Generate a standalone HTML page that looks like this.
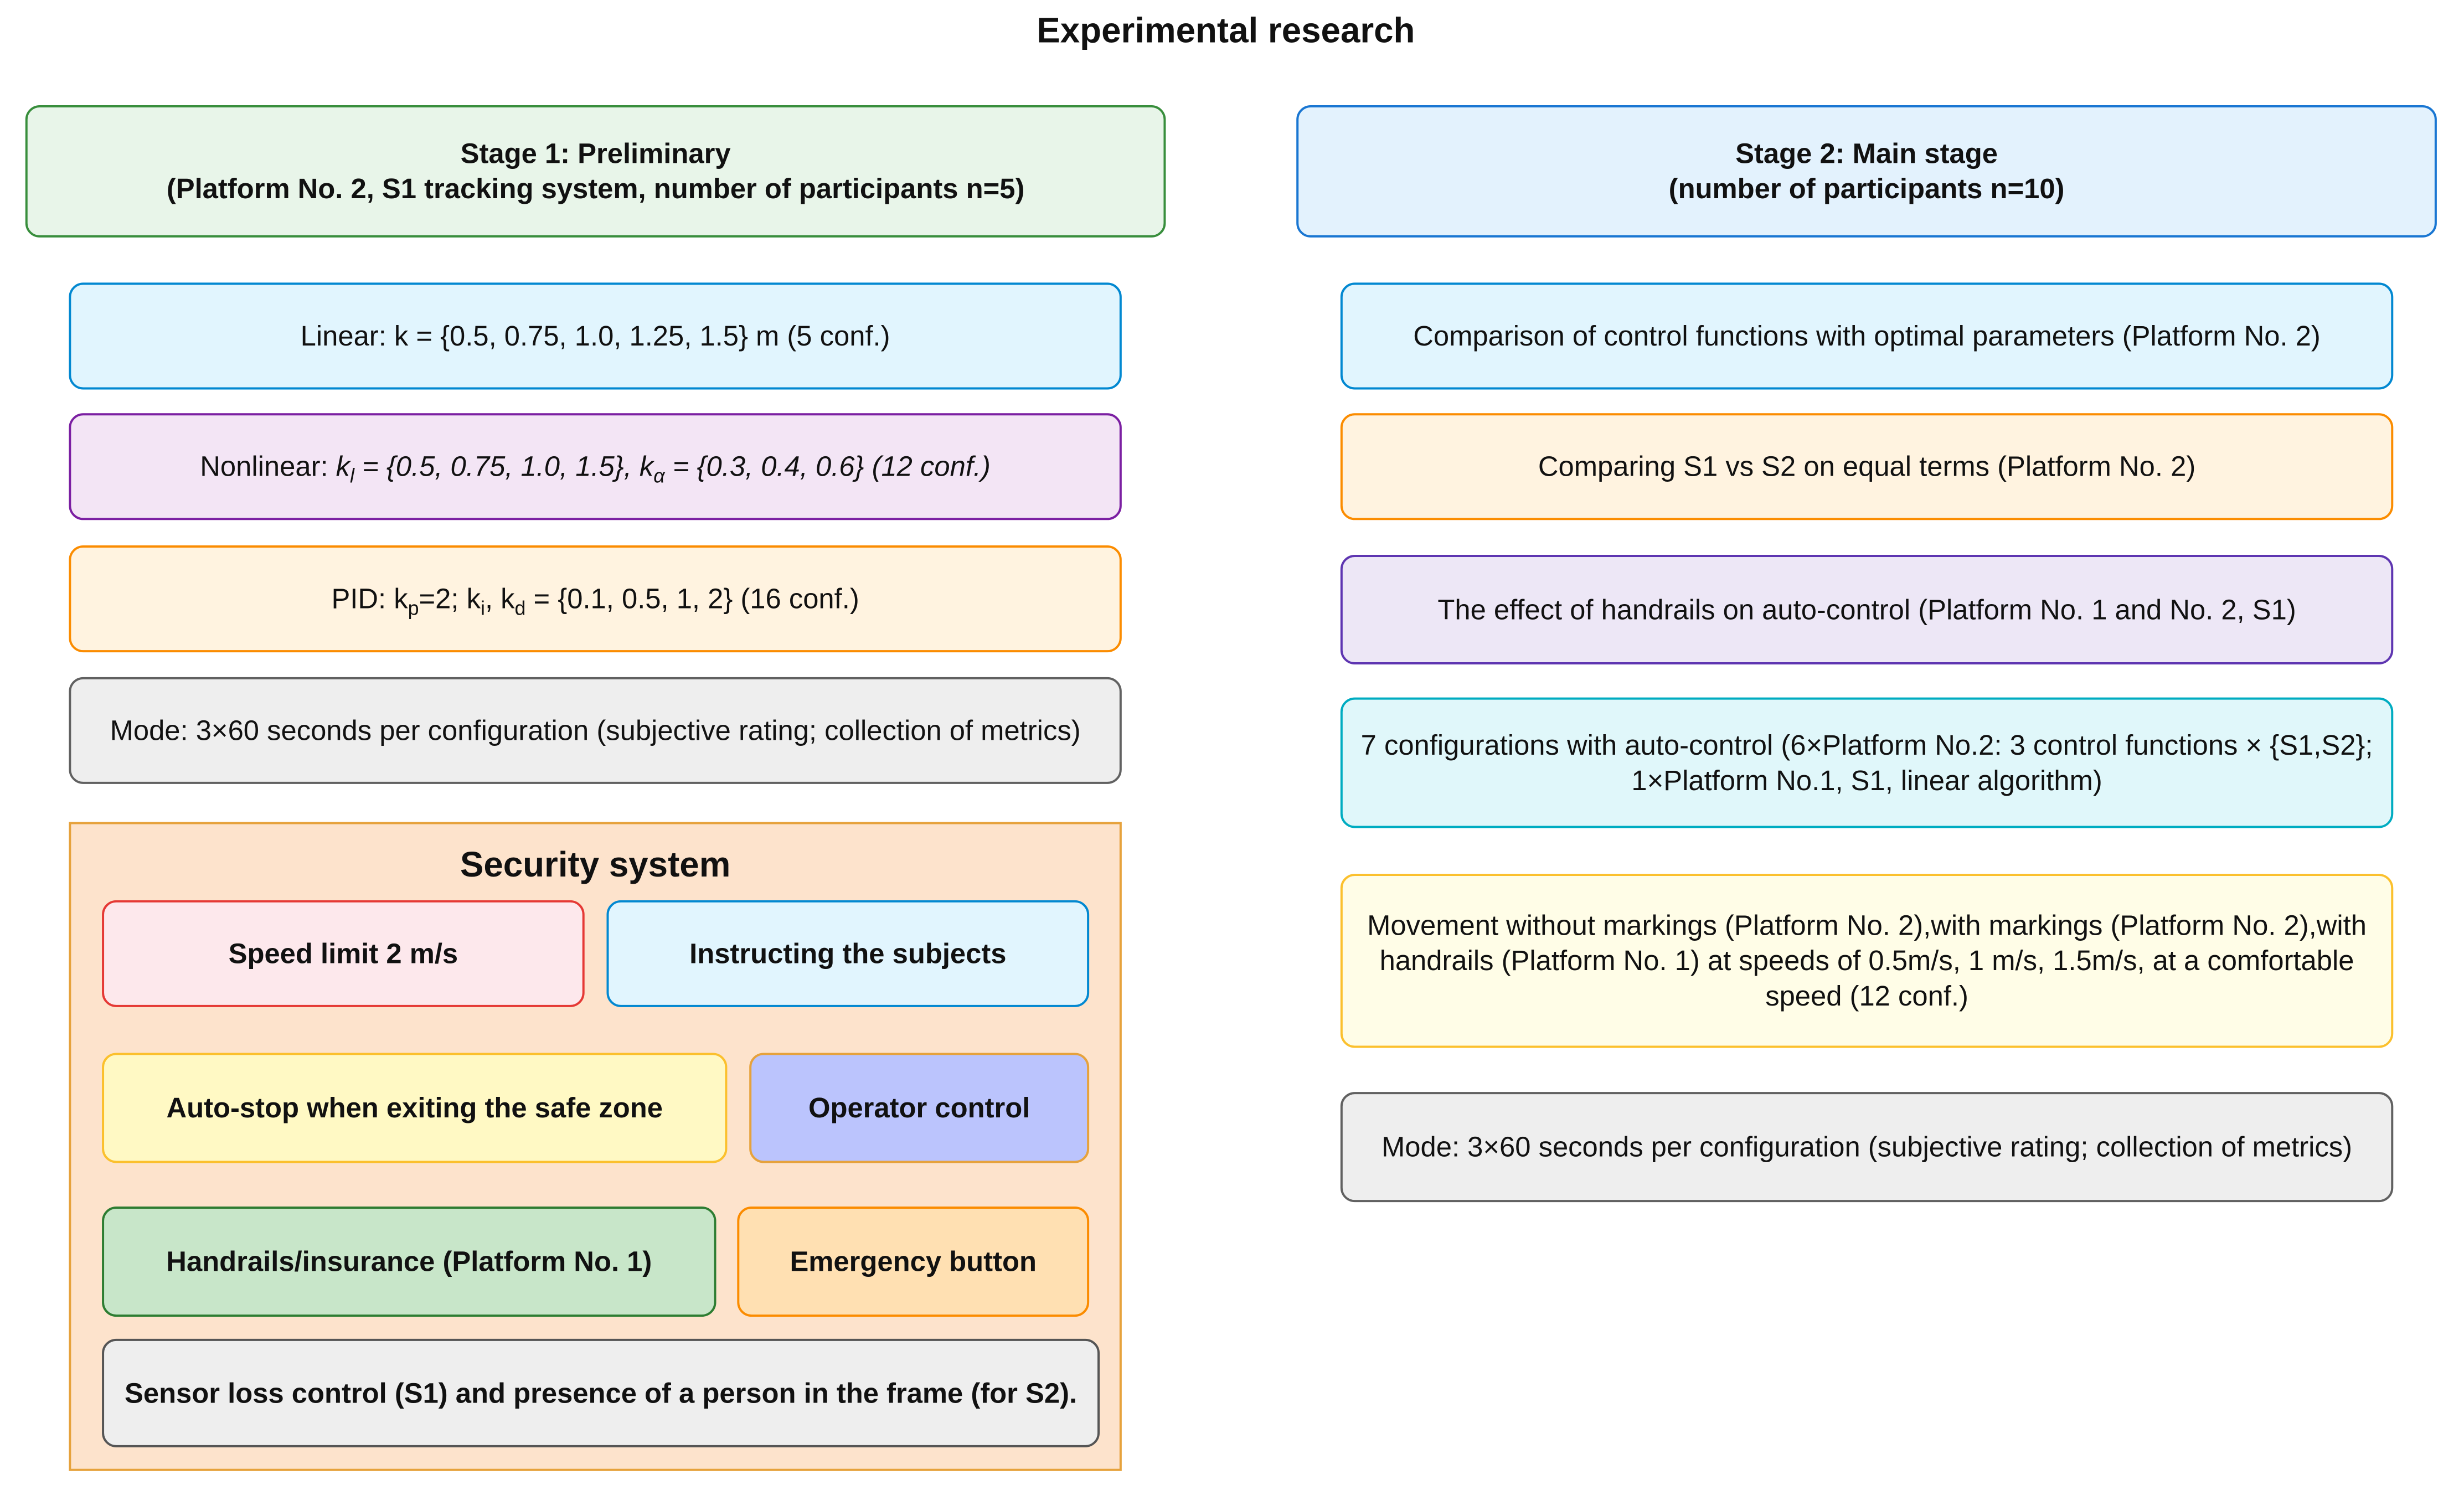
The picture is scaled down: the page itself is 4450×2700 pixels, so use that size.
<!DOCTYPE html>
<html><head><meta charset="utf-8"><style>
body{margin:0;width:4450px;height:2700px;background:#fff;position:relative;overflow:hidden;font-family:"Liberation Sans",Arial,sans-serif;color:#111}
#w{position:absolute;left:0;top:0;width:4450px;height:2700px;transform:scale(0.995);transform-origin:0 0}
.b{position:absolute;box-sizing:border-box;border:4px solid;border-radius:26px;display:flex;align-items:center;justify-content:center;text-align:center;font-size:51px;line-height:1.25}
.bd{font-weight:bold}
sub{font-size:36px;vertical-align:-12px;line-height:0}
</style></head><body><div id="w">
<div style="position:absolute;left:0;width:4450px;top:18px;text-align:center;font-weight:bold;font-size:64px">Experimental research</div>

<div class="b bd" style="left:46px;top:191px;width:2070px;height:240px;background:#e8f5e9;border-color:#388e3c">Stage 1: Preliminary<br>(Platform No. 2, S1 tracking system, number of participants n=5)</div>
<div class="b bd" style="left:2353px;top:191px;width:2070px;height:240px;background:#e3f2fd;border-color:#1976d2">Stage 2: Main stage<br>(number of participants n=10)</div>

<div class="b" style="left:125px;top:513px;width:1911px;height:194px;background:#e1f5fe;border-color:#0288d1">Linear: k = {0.5, 0.75, 1.0, 1.25, 1.5} m (5 conf.)</div>
<div class="b" style="left:125px;top:750px;width:1911px;height:194px;background:#f3e5f5;border-color:#7b1fa2"><span>Nonlinear: <i>k<sub>l</sub> = {0.5, 0.75, 1.0, 1.5}, k<sub>α</sub> = {0.3, 0.4, 0.6} (12 conf.)</i></span></div>
<div class="b" style="left:125px;top:990px;width:1911px;height:194px;background:#fff3e0;border-color:#fb8c00"><span>PID: k<sub>p</sub>=2; k<sub>i</sub>, k<sub>d</sub> = {0.1, 0.5, 1, 2} (16 conf.)</span></div>
<div class="b" style="left:125px;top:1229px;width:1911px;height:194px;background:#eeeeee;border-color:#616161">Mode: 3×60 seconds per configuration (subjective rating; collection of metrics)</div>

<div style="position:absolute;left:125px;top:1492px;width:1911px;height:1178px;box-sizing:border-box;background:#fde3cc;border:4px solid #e6a23c"></div>
<div style="position:absolute;left:125px;width:1911px;top:1532px;text-align:center;font-weight:bold;font-size:64px">Security system</div>
<div class="b bd" style="left:185px;top:1634px;width:876px;height:194px;background:#fde8ec;border-color:#e53935">Speed limit 2 m/s</div>
<div class="b bd" style="left:1101px;top:1634px;width:876px;height:194px;background:#e1f5fe;border-color:#0288d1">Instructing the subjects</div>
<div class="b bd" style="left:185px;top:1911px;width:1135px;height:200px;background:#fff9c4;border-color:#fbc02d">Auto-stop when exiting the safe zone</div>
<div class="b bd" style="left:1360px;top:1911px;width:617px;height:200px;background:#bbc4fd;border-color:#e6a23c">Operator control</div>
<div class="b bd" style="left:185px;top:2190px;width:1115px;height:200px;background:#c8e6c9;border-color:#2e7d32">Handrails/insurance (Platform No. 1)</div>
<div class="b bd" style="left:1338px;top:2190px;width:639px;height:200px;background:#ffe0b2;border-color:#fb8c00">Emergency button</div>
<div class="b bd" style="left:185px;top:2430px;width:1811px;height:197px;background:#eeeeee;border-color:#555">Sensor loss control (S1) and presence of a person in the frame (for S2).</div>

<div class="b" style="left:2433px;top:513px;width:1911px;height:194px;background:#e1f5fe;border-color:#0288d1">Comparison of control functions with optimal parameters (Platform No. 2)</div>
<div class="b" style="left:2433px;top:750px;width:1911px;height:194px;background:#fff3e0;border-color:#fb8c00">Comparing S1 vs S2 on equal terms (Platform No. 2)</div>
<div class="b" style="left:2433px;top:1007px;width:1911px;height:199px;background:#ede7f6;border-color:#5e35b1">The effect of handrails on auto-control (Platform No. 1 and No. 2, S1)</div>
<div class="b" style="left:2433px;top:1266px;width:1911px;height:237px;background:#e0f7fa;border-color:#00acc1">7 configurations with auto-control (6×Platform No.2: 3 control functions × {S1,S2};<br>1×Platform No.1, S1, linear algorithm)</div>
<div class="b" style="left:2433px;top:1586px;width:1911px;height:316px;background:#fffde7;border-color:#fbc02d;padding:0 10px">Movement without markings (Platform No. 2),with markings (Platform No. 2),with<br>handrails (Platform No. 1) at speeds of 0.5m/s, 1 m/s, 1.5m/s, at a comfortable<br>speed (12 conf.)</div>
<div class="b" style="left:2433px;top:1982px;width:1911px;height:200px;background:#eeeeee;border-color:#616161">Mode: 3×60 seconds per configuration (subjective rating; collection of metrics)</div>
</div></body></html>
